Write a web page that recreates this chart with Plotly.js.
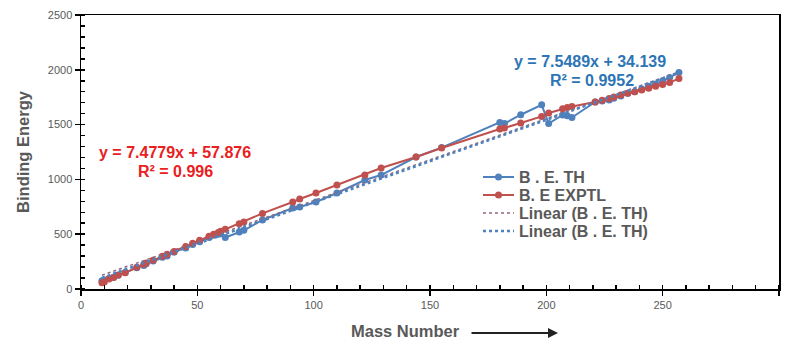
<!DOCTYPE html>
<html>
<head>
<meta charset="utf-8">
<script src="https://cdn.plot.ly/plotly-3.0.1.min.js"></script>
<style>html,body{margin:0;padding:0;background:#fff;}#chart{width:787px;height:344px;}</style>
</head>
<body>
<div id="chart"></div>
<script>
// Mass numbers (A)
const massNumbers = [9, 10, 12, 14, 16, 19, 24, 27, 28, 31, 35, 37, 40, 45, 48, 51, 55, 57, 59, 60, 62, 68, 70, 78, 91, 94, 101, 110, 122, 129, 144, 155, 180, 182, 189, 198, 201, 207, 209, 211, 221, 224, 227, 229, 232, 235, 238, 241, 244, 247, 250, 253, 257];
// Binding energy, theoretical
const beTheory = [75, 82, 95, 108, 125, 150, 195, 215, 230, 255, 290, 300, 335, 375, 405, 430, 470, 490, 500, 505, 470, 520, 535, 630, 739, 748, 794, 876, 994, 1040, 1204, 1290, 1520, 1510, 1590, 1680, 1510, 1588, 1580, 1565, 1706, 1715, 1724, 1740, 1760, 1785, 1800, 1825, 1850, 1870, 1900, 1930, 1975];
// Binding energy, experimental
const beExptl = [58, 65, 92, 105, 128, 148, 198, 225, 237, 263, 298, 318, 342, 388, 418, 445, 482, 499, 515, 526, 545, 595, 611, 690, 794, 821, 876, 949, 1040, 1104, 1204, 1286, 1460, 1469, 1515, 1575, 1606, 1645, 1655, 1665, 1706, 1722, 1738, 1752, 1770, 1787, 1800, 1815, 1832, 1850, 1865, 1885, 1920];
// Trendline end points
const trendX = [9, 258];
const trendExptl = [125, 1987];
const trendTheory = [102, 1982];
const xTicks = [0, 50, 100, 150, 200, 250, 300];
const yTicks = [0, 500, 1000, 1500, 2000, 2500];
const seriesNames = ['B . E. TH', 'B. E EXPTL', 'Linear (B . E. TH)', 'Linear (B . E. TH)'];

const gray = '#595959';
const blue = '#4F81BD', red = '#C0504D', trendRed = '#8C6A80';
const fontFam = 'Liberation Sans, Arial, sans-serif';
const L = 81, R = 779, T = 15, B = 289;
const px = v => (v - L) / (R - L);
const py = v => (B - v) / (B - T);

const traces = [
  {x: massNumbers, y: beTheory, name: seriesNames[0], mode: 'lines+markers',
   line: {color: blue, width: 2}, marker: {color: blue, size: 7}},
  {x: massNumbers, y: beExptl, name: seriesNames[1], mode: 'lines+markers',
   line: {color: red, width: 2}, marker: {color: red, size: 7}},
  {x: trendX, y: trendExptl, name: seriesNames[2], mode: 'lines',
   line: {color: trendRed, width: 1.5, dash: 'dot'}},
  {x: trendX, y: trendTheory, name: seriesNames[3], mode: 'lines',
   line: {color: blue, width: 2.5, dash: 'dot'}}
];

// manual legend (Excel-like compact spacing)
const legRows = [177, 195, 213, 231];
const legStyles = [
  {color: blue, width: 2, dash: 'solid', dot: true},
  {color: red, width: 2, dash: 'solid', dot: true},
  {color: trendRed, width: 1.5, dash: 'dot', dot: false},
  {color: blue, width: 2.5, dash: 'dot', dot: false}
];
const shapes = [];
const annotations = [];
legRows.forEach((yy, i) => {
  const s = legStyles[i];
  shapes.push({type: 'line', xref: 'paper', yref: 'paper', x0: px(483), x1: px(514), y0: py(yy), y1: py(yy),
    line: {color: s.color, width: s.width, dash: s.dash}});
  if (s.dot) shapes.push({type: 'circle', xref: 'paper', yref: 'paper', x0: px(495), x1: px(502), y0: py(yy - 3.5), y1: py(yy + 3.5),
    fillcolor: s.color, line: {color: s.color, width: 0}});
  annotations.push({xref: 'paper', yref: 'paper', x: px(517), y: py(yy), xanchor: 'left', yanchor: 'middle',
    text: seriesNames[i], showarrow: false, font: {size: 16, color: gray, weight: 'bold'}});
});

annotations.push(
  {xref: 'paper', yref: 'paper', x: px(590), y: py(61), xanchor: 'center', yanchor: 'middle', text: 'y = 7.5489x + 34.139', showarrow: false,
   font: {size: 16, color: '#2E75B6', weight: 'bold'}},
  {xref: 'paper', yref: 'paper', x: px(592), y: py(80), xanchor: 'center', yanchor: 'middle', text: 'R² = 0.9952', showarrow: false,
   font: {size: 16, color: '#2E75B6', weight: 'bold'}},
  {xref: 'paper', yref: 'paper', x: px(175), y: py(153), xanchor: 'center', yanchor: 'middle', text: 'y = 7.4779x + 57.876', showarrow: false,
   font: {size: 16, color: '#E8201E', weight: 'bold'}},
  {xref: 'paper', yref: 'paper', x: px(175), y: py(171), xanchor: 'center', yanchor: 'middle', text: 'R² = 0.996', showarrow: false,
   font: {size: 16, color: '#E8201E', weight: 'bold'}},
  {xref: 'paper', yref: 'paper', x: px(405), y: py(331), xanchor: 'center', yanchor: 'middle', text: 'Mass Number', showarrow: false,
   font: {size: 16.5, color: gray, weight: 'bold'}},
  {xref: 'paper', yref: 'paper', x: px(558), y: py(333), text: '', showarrow: true,
   ax: -88, ay: 0, arrowhead: 2, arrowsize: 1, arrowwidth: 2, arrowcolor: '#222'}
);

const layout = {
  width: 787, height: 344,
  margin: {l: L, r: 787 - R, t: T, b: 344 - B},
  paper_bgcolor: '#fff', plot_bgcolor: '#fff',
  font: {family: fontFam, color: gray, size: 11},
  showlegend: false,
  xaxis: {range: [0, 300], tickvals: xTicks, ticks: 'outside', ticklen: 5, tickwidth: 1.5,
    tickcolor: '#000', showline: true, linecolor: '#000', linewidth: 1.5, mirror: true,
    showgrid: false, zeroline: false, tickfont: {size: 11, color: gray},
    minor: {dtick: 10, ticks: 'inside', ticklen: 4, tickcolor: '#000', showgrid: false}},
  yaxis: {range: [0, 2500], tickvals: yTicks, ticks: 'outside', ticklen: 5, tickwidth: 1.5,
    tickcolor: '#000', showline: true, linecolor: '#000', linewidth: 1.5, mirror: true,
    showgrid: false, zeroline: false, tickfont: {size: 11, color: gray},
    minor: {dtick: 100, ticks: 'inside', ticklen: 4, tickcolor: '#000', showgrid: false},
    title: {text: 'Binding Energy', font: {size: 16.5, color: gray, weight: 'bold'}, standoff: 14}},
  shapes: shapes,
  annotations: annotations
};

Plotly.newPlot('chart', traces, layout, {displayModeBar: false, staticPlot: true});
</script>
</body>
</html>
